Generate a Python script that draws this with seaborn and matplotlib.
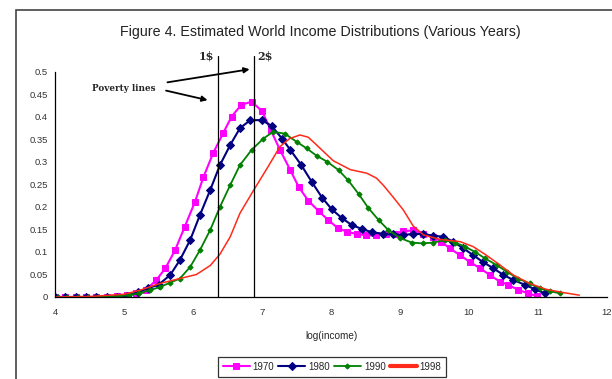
import numpy as np
import pandas as pd
import matplotlib
matplotlib.use("Agg")
import matplotlib.pyplot as plt
import seaborn as sns
from matplotlib.patches import Rectangle

sns.set_style("white")
plt.rcParams['font.family'] = ['Liberation Sans', 'DejaVu Sans']

title = "Figure 4. Estimated World Income Distributions (Various Years)"
x_label = "log(income)"
labels = ["1970", "1980", "1990", "1998"]

x_1970 = [4.0, 4.15, 4.3, 4.45, 4.6, 4.75, 4.9, 5.04, 5.18, 5.32, 5.47, 5.6, 5.74, 5.88, 6.03,
          6.15, 6.29, 6.44, 6.56, 6.70, 6.85, 7.00, 7.13, 7.26, 7.41, 7.53, 7.67, 7.82, 7.96,
          8.10, 8.23, 8.37, 8.51, 8.65, 8.79, 8.93, 9.05, 9.19, 9.34, 9.48, 9.60, 9.72, 9.87,
          10.01, 10.16, 10.30, 10.45, 10.57, 10.71, 10.86, 10.98]
y_1970 = [0, 0, 0, 0, 0, 0.001, 0.002, 0.004, 0.008, 0.016, 0.038, 0.064, 0.104, 0.156, 0.212,
          0.266, 0.319, 0.365, 0.401, 0.427, 0.434, 0.413, 0.37, 0.327, 0.282, 0.245, 0.214,
          0.191, 0.171, 0.153, 0.145, 0.14, 0.137, 0.137, 0.139, 0.141, 0.146, 0.148, 0.141,
          0.134, 0.123, 0.108, 0.093, 0.078, 0.064, 0.049, 0.034, 0.027, 0.016, 0.008, 0.002]

x_1980 = [4.0, 4.15, 4.3, 4.45, 4.6, 4.75, 4.9, 5.05, 5.2, 5.35, 5.5, 5.67, 5.81, 5.96, 6.1,
          6.25, 6.39, 6.54, 6.68, 6.83, 7.0, 7.14, 7.29, 7.41, 7.57, 7.72, 7.87, 8.01, 8.16,
          8.3, 8.45, 8.59, 8.76, 8.9, 9.05, 9.19, 9.34, 9.48, 9.63, 9.77, 9.92, 10.06, 10.2,
          10.35, 10.5, 10.64, 10.81, 10.96, 11.1]
y_1980 = [0, 0, 0, 0, 0, 0, 0.001, 0.003, 0.01, 0.02, 0.027, 0.049, 0.082, 0.127, 0.182,
          0.238, 0.293, 0.338, 0.375, 0.393, 0.393, 0.38, 0.352, 0.327, 0.293, 0.256, 0.221,
          0.195, 0.175, 0.16, 0.151, 0.144, 0.14, 0.139, 0.138, 0.14, 0.14, 0.136, 0.134,
          0.123, 0.108, 0.093, 0.078, 0.064, 0.049, 0.038, 0.027, 0.017, 0.008]

x_1990 = [4.04, 4.18, 4.33, 4.48, 4.63, 4.78, 4.93, 5.07, 5.22, 5.37, 5.52, 5.67, 5.81, 5.96,
          6.1, 6.25, 6.39, 6.54, 6.68, 6.85, 7.02, 7.16, 7.33, 7.5, 7.65, 7.79, 7.94, 8.11,
          8.25, 8.4, 8.54, 8.69, 8.83, 9.0, 9.17, 9.33, 9.48, 9.65, 9.8, 9.94, 10.09, 10.23,
          10.4, 10.55, 10.71, 10.88, 11.03, 11.17, 11.32]
y_1990 = [0, 0, 0, 0, 0, 0.001, 0.002, 0.004, 0.008, 0.015, 0.022, 0.032, 0.041, 0.067,
          0.104, 0.149, 0.2, 0.249, 0.293, 0.327, 0.352, 0.367, 0.363, 0.345, 0.33, 0.314,
          0.301, 0.282, 0.259, 0.229, 0.198, 0.171, 0.149, 0.131, 0.121, 0.119, 0.121, 0.126,
          0.121, 0.112, 0.1, 0.086, 0.071, 0.056, 0.041, 0.03, 0.019, 0.013, 0.008]

x_1998 = [3.95, 4.5, 5.0, 5.23, 5.52, 5.81, 6.05, 6.25, 6.39, 6.54, 6.68, 6.87, 7.07, 7.26,
          7.4, 7.55, 7.67, 7.79, 8.03, 8.28, 8.52, 8.66, 8.76, 8.9, 9.05, 9.19, 9.34, 9.58,
          9.87, 10.06, 10.25, 10.45, 10.64, 10.88, 11.12, 11.36, 11.6]
y_1998 = [0, 0.001, 0.006, 0.015, 0.03, 0.041, 0.05, 0.07, 0.095, 0.134, 0.186, 0.235, 0.285,
          0.334, 0.352, 0.36, 0.355, 0.338, 0.303, 0.283, 0.275, 0.264, 0.248, 0.222, 0.193,
          0.158, 0.138, 0.128, 0.123, 0.112, 0.093, 0.071, 0.049, 0.03, 0.017, 0.01, 0.004]

x_ticks = [4, 5, 6, 7, 8, 9, 10, 11, 12]
y_ticks = [0, 0.05, 0.1, 0.15, 0.2, 0.25, 0.3, 0.35, 0.4, 0.45, 0.5]
y_tick_labels = ["0", "0.05", "0.1", "0.15", "0.2", "0.25", "0.3", "0.35", "0.4", "0.45", "0.5"]
poverty_x = [6.36, 6.88]
poverty_labels = ["1$", "2$"]

fig = plt.figure(figsize=(6.12, 3.79), dpi=100)
ax = fig.add_axes([0.0899, 0.2164, 0.9019, 0.5937])

styles = [
    (x_1970, y_1970, labels[0], "#ff00ff", "s", 4.5, 1.5),
    (x_1980, y_1980, labels[1], "#000080", "D", 3.8, 1.5),
    (x_1990, y_1990, labels[2], "#008000", "D", 2.6, 1.3),
]
for xs, ys, lab, col, mk, ms, lw in styles:
    sns.lineplot(x=xs, y=ys, ax=ax, color=col, marker=mk, markersize=ms, linewidth=lw,
                 markeredgecolor=col, label=lab, estimator=None, sort=False)
sns.lineplot(x=x_1998, y=y_1998, ax=ax, color="#ff2a1a", linewidth=1.1, label=labels[3],
             estimator=None, sort=False)

ax.set_xlim(4, 12)
ax.set_ylim(0, 0.5)
ax.set_xticks(x_ticks)
ax.set_xticklabels([str(t) for t in x_ticks], fontsize=6.8, color="#333333")
ax.set_yticks(y_ticks)
ax.set_yticklabels(y_tick_labels, fontsize=6.8, color="#333333")
ax.tick_params(axis="x", direction="out", length=3, width=0.8, color="black", pad=5)
ax.tick_params(axis="y", direction="out", length=3, width=0.8, color="black", pad=2)
for s in ["top", "right"]:
    ax.spines[s].set_visible(False)
for s in ["left", "bottom"]:
    ax.spines[s].set_color("black")
    ax.spines[s].set_linewidth(0.9)
ax.set_xlabel(x_label, fontsize=7.2, labelpad=10)
ax.set_ylabel("")

# poverty lines
for px, pl, tx in zip(poverty_x, poverty_labels, [6.2, 7.04]):
    ax.plot([px, px], [0, 0.536], color="black", linewidth=0.9, clip_on=False)
    ax.text(tx, 0.536, pl, fontsize=8, fontweight="black", family="DejaVu Serif",
            ha="center", va="center", clip_on=False)
ax.text(4.99, 0.464, "Poverty lines", fontsize=6.3, fontweight="black", family="DejaVu Serif",
        ha="center", va="center")
ax.annotate("", xy=(6.86, 0.507), xytext=(5.59, 0.476), annotation_clip=False,
            arrowprops=dict(arrowstyle="-|>", color="black", lw=1.3, mutation_scale=8))
ax.annotate("", xy=(6.25, 0.436), xytext=(5.57, 0.460), annotation_clip=False,
            arrowprops=dict(arrowstyle="-|>", color="black", lw=1.3, mutation_scale=8))

fig.text(0.524, 0.915, title, fontsize=10.3, ha="center", va="center", color="#222222")

leg = ax.legend(loc="upper center", bbox_to_anchor=(0.5425, 0.058), bbox_transform=fig.transFigure,
                ncol=4, fontsize=7, frameon=True, fancybox=False, edgecolor="black",
                handlelength=2.8, columnspacing=0.4, handletextpad=0.3, borderpad=0.5,
                borderaxespad=0)
leg.get_frame().set_linewidth(0.9)
for line in leg.get_lines():
    if line.get_label() == labels[3]:
        line.set_linewidth(3)

fig.patches.append(Rectangle((16 / 612, -0.1), 1.2, 1 - 10 / 379 + 0.1, transform=fig.transFigure,
                             fill=False, edgecolor="#444444", linewidth=1.2))

fig.savefig("out.png", dpi=100)
